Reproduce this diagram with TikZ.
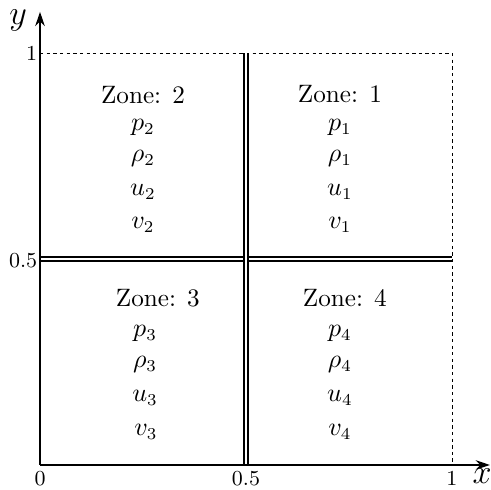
\documentclass[tikz,border=0pt]{standalone}
\usetikzlibrary{arrows.meta}
\begin{document}
\begin{tikzpicture}[x=6.1cm,y=6.1cm,
  axis/.style={semithick,-{Stealth[length=6pt,width=4pt]}},
  interface/.style={double,double distance=1.2pt,line width=0.5pt},
  bound/.style={dash pattern=on 1.4pt off 1.4pt},
  lbl/.style={inner sep=1pt,font=\small},
  ztxt/.style={font=\fontsize{10.6}{12.7}\selectfont}]
\useasboundingbox (-0.0971,-0.0607) rectangle (1.0947,1.1286);
\coordinate (O) at (0,0);
\coordinate (X) at (1.092,0);
\coordinate (Y) at (0,1.1);
\coordinate (T1) at (0,1);
\coordinate (C11) at (1,1);
\coordinate (R0) at (1,0);
\coordinate (Hm) at (0,0.5);
\coordinate (Hr) at (1,0.5);
\coordinate (Vb) at (0.5,0);
\coordinate (Vt) at (0.5,1);
\draw[bound] (T1) -- (C11) -- (R0);
\draw[interface] (Hm) -- (Hr);
\draw[interface] (Vb) -- (Vt);
\draw[axis] (O) -- (X);
\draw[axis] (O) -- (Y);
\node[inner sep=1pt] (xl) at (1.073,-0.027) {\Large $x$};
\node[inner sep=1pt] (yl) at (-0.053,1.079) {\Large $y$};
\node[lbl,anchor=east] (t1) at (0,1) {1};
\node[lbl,anchor=east] (t05) at (0,0.495) {0.5};
\node[lbl,anchor=north] (x0) at (0,-0.008) {0};
\node[lbl,anchor=north] (x05) at (0.5,-0.008) {0.5};
\node[lbl,anchor=north] (x1) at (1,-0.008) {1};
% Zone 2
\node[ztxt] (z2) at (0.25,0.898) {Zone: 2};
\node[ztxt] (p2) at (0.25,0.82) {$p_2$};
\node[ztxt] (r2) at (0.25,0.743) {$\rho_2$};
\node[ztxt] (u2) at (0.25,0.663) {$u_2$};
\node[ztxt] (v2) at (0.25,0.583) {$v_2$};
% Zone 1
\node[ztxt] (z1) at (0.728,0.9) {Zone: 1};
\node[ztxt] (p1) at (0.728,0.82) {$p_1$};
\node[ztxt] (r1) at (0.728,0.743) {$\rho_1$};
\node[ztxt] (u1) at (0.728,0.663) {$u_1$};
\node[ztxt] (v1) at (0.728,0.583) {$v_1$};
% Zone 3
\node[ztxt] (z3) at (0.286,0.405) {Zone: 3};
\node[ztxt] (p3) at (0.255,0.32) {$p_3$};
\node[ztxt] (r3) at (0.255,0.243) {$\rho_3$};
\node[ztxt] (u3) at (0.255,0.163) {$u_3$};
\node[ztxt] (v3) at (0.257,0.08) {$v_3$};
% Zone 4
\node[ztxt] (z4) at (0.74,0.405) {Zone: 4};
\node[ztxt] (p4) at (0.728,0.32) {$p_4$};
\node[ztxt] (r4) at (0.728,0.243) {$\rho_4$};
\node[ztxt] (u4) at (0.728,0.163) {$u_4$};
\node[ztxt] (v4) at (0.728,0.08) {$v_4$};
\end{tikzpicture}
\end{document}
